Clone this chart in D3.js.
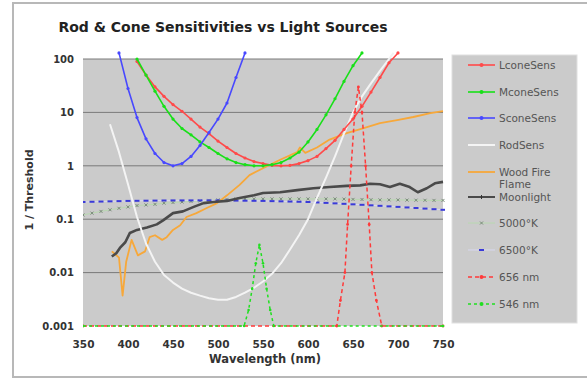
<!DOCTYPE html>
<html><head><meta charset="utf-8">
<script src="https://cdn.jsdelivr.net/npm/d3@7/dist/d3.min.js"></script>
<style>body{margin:0;background:#fff;} svg{display:block;font-family:"DejaVu Sans",Verdana,sans-serif;}</style>
</head><body>
<svg id="chart" width="587" height="378"></svg>
<script>
// ---- data ----
const title = "Rod & Cone Sensitivities vs Light Sources";
const xTicks = [350,400,450,500,550,600,650,700,750];
const yTicks = [0.001,0.01,0.1,1,10,100];
const yTickLabels = ["0.001","0.01","0.1","1","10","100"];

const lconeWl = [410,420,430,440,450,460,470,480,490,500,510,520,530,540,550,560,570,580,590,600,610,620,630,640,650,660,670,680,690,700];
const lconeVal = [90,50,30,20,14,10.5,7.5,5.3,4,2.9,2.2,1.7,1.4,1.2,1.1,1.02,1.0,1.02,1.1,1.25,1.5,2.1,3.0,4.8,7.5,13,24,45,85,130];

const mconeWl = [410,420,430,440,450,460,470,480,490,500,510,520,530,540,550,560,570,580,590,600,610,620,630,640,650,660];
const mconeVal = [100,50,25,13,7.5,5,3.8,2.8,2.2,1.7,1.35,1.15,1.05,1.0,1.0,1.05,1.15,1.4,1.8,2.8,4.8,9,18,38,75,130];

const sconeWl = [390,400,410,420,430,440,450,460,470,480,490,500,510,520,530];
const sconeVal = [130,28,8,3.2,1.7,1.15,1.0,1.1,1.5,2.4,4.2,7.5,15,45,130];

const rodWl = [380,390,400,410,420,430,440,450,460,470,480,490,500,510,520,530,540,550,560,570,580,590,600,610,620,630,640,650,660,670,680,690,695];
const rodVal = [6,1.8,0.45,0.11,0.035,0.016,0.009,0.0065,0.005,0.0042,0.0037,0.0033,0.0031,0.0031,0.0035,0.0042,0.0052,0.0068,0.0095,0.015,0.027,0.05,0.1,0.25,0.6,1.5,4,10,20,35,60,100,130];

const fireWl = [382,386,390,394,398,404,411,419,424,430,438,443,450,458,465,476,487,499,510,524,535,550,569,588,591,597,610,624,643,661,680,699,717,736,750];
const fireVal = [0.025,0.022,0.019,0.0037,0.016,0.041,0.021,0.025,0.046,0.05,0.041,0.046,0.063,0.077,0.11,0.13,0.16,0.2,0.28,0.44,0.67,0.9,1.3,1.8,2.2,1.75,2.2,3.1,4.1,5,6.3,7.2,8.2,9.7,10.6];

const moonWl = [382,387,391,397,402,410,421,432,439,450,461,473,484,495,510,524,540,550,569,588,606,624,643,658,669,680,691,702,713,722,732,741,750];
const moonVal = [0.02,0.023,0.029,0.037,0.055,0.063,0.07,0.08,0.095,0.13,0.14,0.17,0.2,0.21,0.22,0.25,0.28,0.31,0.32,0.35,0.38,0.4,0.42,0.43,0.46,0.45,0.4,0.46,0.4,0.32,0.38,0.47,0.5];

const k5000Wl = [350,360,370,380,390,400,410,420,430,440,450,460,470,480,490,500,510,520,530,540,550,560,570,580,590,600,610,620,630,640,650,660,670,680,690,700,710,720,730,740,750];
const k5000Val = [0.12,0.13,0.14,0.15,0.16,0.17,0.18,0.185,0.19,0.2,0.205,0.21,0.215,0.22,0.225,0.23,0.235,0.24,0.24,0.24,0.24,0.24,0.24,0.24,0.24,0.24,0.24,0.24,0.24,0.238,0.235,0.234,0.232,0.23,0.23,0.23,0.228,0.227,0.226,0.225,0.225];

const k6500Wl = [350,360,370,380,390,400,410,420,430,440,450,460,470,480,490,500,510,520,530,540,550,560,570,580,590,600,610,620,630,640,650,660,670,680,690,700,710,720,730,740,750];
const k6500Val = [0.21,0.212,0.214,0.216,0.218,0.22,0.221,0.222,0.223,0.224,0.225,0.225,0.225,0.225,0.225,0.225,0.224,0.223,0.222,0.221,0.22,0.218,0.216,0.214,0.212,0.21,0.206,0.202,0.198,0.194,0.19,0.186,0.182,0.178,0.174,0.17,0.166,0.162,0.158,0.154,0.15];

const h656Wl = [350,632,636,641,644,648,652,656,660,664,668,671,676,682,750];
const h656Val = [0.001,0.001,0.003,0.01,0.08,1,10,30,10,1,0.08,0.01,0.003,0.001,0.001];

const g546Wl = [350,529,534,538,542,546,550,554,558,562,750];
const g546Val = [0.001,0.001,0.002,0.005,0.015,0.033,0.015,0.005,0.002,0.001,0.001];

const seriesNames = ["LconeSens","MconeSens","SconeSens","RodSens","Wood Fire Flame","Moonlight","5000°K","6500°K","656 nm","546 nm"];

// ---- layout ----
const svg = d3.select("#chart");
const X0=83, X1=443, Y0=59, Y1=326;
const x = d3.scaleLinear().domain([350,750]).range([X0,X1]);
const y = d3.scaleLog().domain([0.001,100]).range([Y1,Y0]);

// outer frame
svg.append("rect").attr("x",13).attr("y",3).attr("width",590).attr("height",374)
  .attr("fill","#fff").attr("stroke","#b8b8b8").attr("stroke-width",2);

svg.append("text").attr("x",223).attr("y",32).attr("text-anchor","middle")
  .attr("font-size",14).attr("font-weight","bold").attr("fill","#222").text(title);

// plot bg
svg.append("rect").attr("x",X0).attr("y",Y0).attr("width",X1-X0).attr("height",Y1-Y0).attr("fill","#cbcbcb");

// gridlines
svg.append("g").selectAll("line").data(yTicks.slice(1)).join("line")
  .attr("x1",X0).attr("x2",X1).attr("y1",d=>y(d)).attr("y2",d=>y(d))
  .attr("stroke","#7a7a7a").attr("stroke-width",1);

// axes
const yAxis = d3.axisLeft(y).tickValues(yTicks).tickFormat((d,i)=>yTickLabels[i]).tickSize(0).tickPadding(9);
const gy = svg.append("g").attr("transform",`translate(${X0},0)`).call(yAxis);
gy.select(".domain").remove();
gy.selectAll("text").attr("font-size",10).attr("font-weight","bold").attr("fill","#333").attr("font-family","DejaVu Sans");

const xAxis = d3.axisBottom(x).tickValues(xTicks).tickFormat(d3.format("d")).tickSize(0).tickPadding(15);
const gx = svg.append("g").attr("transform",`translate(0,${Y1})`).call(xAxis);
gx.select(".domain").remove();
gx.selectAll("text").attr("font-size",10.5).attr("font-weight","bold").attr("fill","#333").attr("font-family","DejaVu Sans");

svg.append("text").attr("x",265).attr("y",363).attr("text-anchor","middle").attr("font-size",11.5)
  .attr("font-weight","bold").attr("fill","#333").text("Wavelength (nm)");
svg.append("text").attr("transform","translate(33,190) rotate(-90)").attr("text-anchor","middle").attr("font-size",11)
  .attr("font-weight","bold").attr("fill","#333").text("1 / Threshold");

// clip
svg.append("clipPath").attr("id","clip").append("rect").attr("x",X0).attr("y",48).attr("width",X1-X0+2).attr("height",Y1-48+2);
const plot = svg.append("g").attr("clip-path","url(#clip)");

const line = d3.line().x(d=>x(d[0])).y(d=>y(d[1]));
const zip = (a,b)=>a.map((v,i)=>[v,b[i]]);

function drawSeries(wl, val, opt){
  const pts = zip(wl,val);
  plot.append("path").datum(pts).attr("d",line).attr("fill","none")
    .attr("stroke",opt.color).attr("stroke-width",opt.width||1.5)
    .attr("stroke-dasharray",opt.dash||null).attr("stroke-linejoin","round");
  if(opt.marker==="dot"){
    plot.append("g").selectAll("circle").data(pts).join("circle")
      .attr("cx",d=>x(d[0])).attr("cy",d=>y(d[1])).attr("r",opt.r||1.6).attr("fill",opt.mcolor||opt.color);
  } else if(opt.marker==="dash"){
    plot.append("g").selectAll("rect").data(pts).join("rect")
      .attr("x",d=>x(d[0])-2.5).attr("y",d=>y(d[1])-1).attr("width",5).attr("height",2).attr("fill",opt.mcolor);
  } else if(opt.marker==="x"){
    plot.append("g").selectAll("path").data(pts).join("path")
      .attr("d",d=>{const cx=x(d[0]),cy=y(d[1]);return `M${cx-1.5},${cy-1.5}L${cx+1.5},${cy+1.5}M${cx-1.5},${cy+1.5}L${cx+1.5},${cy-1.5}`;})
      .attr("stroke",opt.mcolor).attr("stroke-width",1);
  }
}

const styles = [
  {color:"#ff4a4a", marker:"dot", width:1.6},
  {color:"#18e018", marker:"dot", width:1.6},
  {color:"#4848ff", marker:"dot", width:1.6},
  {color:"#f4f4f4", width:2},
  {color:"#f7a83a", width:1.8},
  {color:"#4a4a4a", width:2.6},
  {color:"#b8d8b0", marker:"x", mcolor:"#7a8a7a", width:1},
  {color:"#d8d8f0", marker:"dash", mcolor:"#3a3ad8", width:1},
  {color:"#ff3a3a", dash:"4,3", marker:"dot", r:1.4, width:1.5},
  {color:"#20e020", dash:"3,3", marker:"dot", r:1.3, width:1.5}
];
const seriesData = [
  [lconeWl,lconeVal],[mconeWl,mconeVal],[sconeWl,sconeVal],[rodWl,rodVal],
  [fireWl,fireVal],[moonWl,moonVal],[k5000Wl,k5000Val],[k6500Wl,k6500Val],
  [h656Wl,h656Val],[g546Wl,g546Val]
];
// draw order: light sources under sensitivity curves
const order = [6,7,4,5,3,0,1,2,8,9];
order.forEach(i=>drawSeries(seriesData[i][0],seriesData[i][1],styles[i]));

// legend
const L = svg.append("g");
L.append("rect").attr("x",452).attr("y",55).attr("width",125).attr("height",268)
  .attr("fill","#cbcbcb").attr("stroke","#e0e0e0").attr("stroke-width",1);
const legY = [65,92,118,145,172,197,223,250,277,304];
seriesNames.forEach((n,i)=>{
  const s = styles[i], yy = legY[i];
  L.append("line").attr("x1",468).attr("x2",495).attr("y1",yy).attr("y2",yy)
    .attr("stroke",s.color).attr("stroke-width",Math.min(s.width,2)).attr("stroke-dasharray",s.dash||null);
  if(s.marker==="dot") L.append("circle").attr("cx",481.5).attr("cy",yy).attr("r",2).attr("fill",s.color);
  if(s.marker==="dash") L.append("rect").attr("x",479).attr("y",yy-1).attr("width",5).attr("height",2).attr("fill",s.mcolor);
  if(s.marker==="x") L.append("path").attr("d",`M480,${yy-1.5}L483,${yy+1.5}M480,${yy+1.5}L483,${yy-1.5}`).attr("stroke",s.mcolor);
  if(i===5) L.append("path").attr("d",`M481.5,${yy-2}V${yy+2}`).attr("stroke","#333");
  const t = L.append("text").attr("x",499).attr("y",yy+4).attr("font-size",10.5).attr("fill","#555");
  if(n==="Wood Fire Flame"){
    t.append("tspan").attr("x",499).text("Wood Fire");
    t.append("tspan").attr("x",499).attr("dy",12).text("Flame");
  } else t.text(n);
});
</script>
</body></html>
